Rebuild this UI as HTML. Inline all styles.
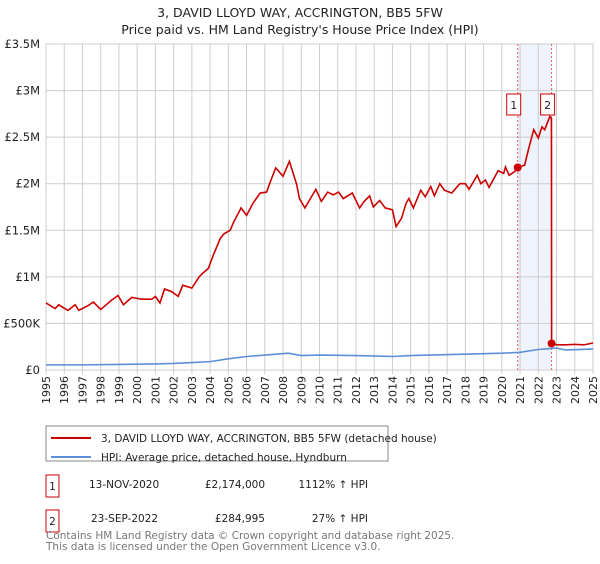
<!DOCTYPE html>
<html><head><meta charset="utf-8"><style>
body{margin:0;background:#fff;font-family:"DejaVu Sans","Liberation Sans",sans-serif;}
svg text{font-family:"DejaVu Sans","Liberation Sans",sans-serif;}
</style></head><body>
<svg id="c" width="600" height="560" viewBox="0 0 600 560" xmlns="http://www.w3.org/2000/svg">
<text x="300" y="17" text-anchor="middle" font-size="12.5" fill="#222">3, DAVID LLOYD WAY, ACCRINGTON, BB5 5FW</text>
<text x="300" y="34" text-anchor="middle" font-size="12.5" fill="#222">Price paid vs. HM Land Registry's House Price Index (HPI)</text>
<g id="plot"></g>
<g font-size="11" fill="#222" text-anchor="end">
<text transform="translate(50.0,376) rotate(-90)">1995</text>
<text transform="translate(68.2,376) rotate(-90)">1996</text>
<text transform="translate(86.5,376) rotate(-90)">1997</text>
<text transform="translate(104.7,376) rotate(-90)">1998</text>
<text transform="translate(122.9,376) rotate(-90)">1999</text>
<text transform="translate(141.2,376) rotate(-90)">2000</text>
<text transform="translate(159.4,376) rotate(-90)">2001</text>
<text transform="translate(177.6,376) rotate(-90)">2002</text>
<text transform="translate(195.9,376) rotate(-90)">2003</text>
<text transform="translate(214.1,376) rotate(-90)">2004</text>
<text transform="translate(232.3,376) rotate(-90)">2005</text>
<text transform="translate(250.6,376) rotate(-90)">2006</text>
<text transform="translate(268.8,376) rotate(-90)">2007</text>
<text transform="translate(287.0,376) rotate(-90)">2008</text>
<text transform="translate(305.3,376) rotate(-90)">2009</text>
<text transform="translate(323.5,376) rotate(-90)">2010</text>
<text transform="translate(341.7,376) rotate(-90)">2011</text>
<text transform="translate(360.0,376) rotate(-90)">2012</text>
<text transform="translate(378.2,376) rotate(-90)">2013</text>
<text transform="translate(396.4,376) rotate(-90)">2014</text>
<text transform="translate(414.7,376) rotate(-90)">2015</text>
<text transform="translate(432.9,376) rotate(-90)">2016</text>
<text transform="translate(451.1,376) rotate(-90)">2017</text>
<text transform="translate(469.4,376) rotate(-90)">2018</text>
<text transform="translate(487.6,376) rotate(-90)">2019</text>
<text transform="translate(505.8,376) rotate(-90)">2020</text>
<text transform="translate(524.1,376) rotate(-90)">2021</text>
<text transform="translate(542.3,376) rotate(-90)">2022</text>
<text transform="translate(560.5,376) rotate(-90)">2023</text>
<text transform="translate(578.8,376) rotate(-90)">2024</text>
<text transform="translate(597.0,376) rotate(-90)">2025</text>
</g>
<g>
<rect x="46" y="426" width="342" height="35" fill="#fff" stroke="#888"/>
<line x1="51" y1="438" x2="91" y2="438" stroke="#cc0000" stroke-width="2"/>
<text x="101" y="442" font-size="10.5" fill="#222">3, DAVID LLOYD WAY, ACCRINGTON, BB5 5FW (detached house)</text>
<line x1="51" y1="457" x2="91" y2="457" stroke="#5b8fd6" stroke-width="2"/>
<text x="101" y="461" font-size="10.5" fill="#222">HPI: Average price, detached house, Hyndburn</text>
</g>
<g font-size="10.5" fill="#222">
<rect x="46" y="475" width="13" height="22" fill="#fff" stroke="#cc0000"/>
<text x="52.5" y="490" text-anchor="middle">1</text>
<text x="89" y="488">13-NOV-2020</text>
<text x="265" y="488" text-anchor="end">£2,174,000</text>
<text x="368" y="488" text-anchor="end">1112% ↑ HPI</text>
</g>
<g font-size="10.5" fill="#222">
<rect x="46" y="510" width="13" height="22" fill="#fff" stroke="#cc0000"/>
<text x="52.5" y="525" text-anchor="middle">2</text>
<text x="91" y="522">23-SEP-2022</text>
<text x="265" y="522" text-anchor="end">£284,995</text>
<text x="368" y="522" text-anchor="end">27% ↑ HPI</text>
</g>
<text x="46" y="539" font-size="10.5" fill="#777">Contains HM Land Registry data © Crown copyright and database right 2025.</text>
<text x="46" y="550" font-size="10.5" fill="#777">This data is licensed under the Open Government Licence v3.0.</text>
</svg>
<script>
const yTickValues=[0,0.5,1,1.5,2,2.5,3,3.5];
const yTickLabels=["£0","£500K","£1M","£1.5M","£2M","£2.5M","£3M","£3.5M"];
const xYears=[1995,1996,1997,1998,1999,2000,2001,2002,2003,2004,2005,2006,2007,2008,2009,2010,2011,2012,2013,2014,2015,2016,2017,2018,2019,2020,2021,2022,2023,2024,2025];
const redT=[1995,1995.5,1995.7,1996.2,1996.6,1996.8,1997.3,1997.6,1998,1998.6,1998.95,1999.25,1999.7,2000.25,2000.8,2001,2001.25,2001.5,2001.9,2002.25,2002.5,2003,2003.4,2003.6,2003.9,2004.15,2004.55,2004.75,2005.1,2005.3,2005.7,2006,2006.35,2006.75,2007.1,2007.3,2007.6,2008,2008.35,2008.75,2008.9,2009.2,2009.5,2009.8,2010.1,2010.45,2010.75,2011.05,2011.3,2011.8,2012.2,2012.45,2012.75,2012.95,2013.3,2013.6,2014,2014.2,2014.5,2014.75,2014.9,2015.15,2015.55,2015.8,2016.1,2016.3,2016.6,2016.85,2017.25,2017.7,2018,2018.2,2018.65,2018.85,2019.1,2019.3,2019.8,2020.1,2020.2,2020.4,2020.7,2020.87,2021.25,2021.45,2021.75,2022,2022.2,2022.35,2022.63,2022.72,2022.73,2023,2023.5,2024,2024.5,2025];
const redV=[0.72,0.66,0.70,0.64,0.70,0.64,0.69,0.73,0.65,0.75,0.80,0.70,0.78,0.76,0.76,0.79,0.72,0.87,0.84,0.79,0.91,0.88,1.00,1.04,1.09,1.22,1.41,1.46,1.50,1.59,1.74,1.66,1.79,1.90,1.91,2.02,2.17,2.08,2.24,1.99,1.84,1.74,1.84,1.94,1.81,1.91,1.88,1.91,1.84,1.90,1.74,1.81,1.87,1.75,1.82,1.74,1.72,1.54,1.63,1.79,1.84,1.74,1.93,1.86,1.97,1.87,2.00,1.93,1.90,2.00,2.00,1.94,2.09,2.00,2.04,1.96,2.14,2.11,2.18,2.09,2.13,2.174,2.20,2.36,2.58,2.49,2.61,2.58,2.72,2.70,0.285,0.27,0.27,0.275,0.27,0.29];
const hpiT=[1995,1997,1999,2001,2002,2003,2004,2005,2006,2007,2008.3,2009,2010,2012,2014,2015,2016,2018,2020,2021,2022,2023,2023.5,2025];
const hpiV=[0.055,0.055,0.06,0.065,0.07,0.08,0.09,0.12,0.145,0.16,0.18,0.155,0.16,0.155,0.145,0.155,0.16,0.17,0.18,0.19,0.22,0.235,0.215,0.225];
const saleT=[2020.87,2022.73];
const saleV=[2.174,0.285];
const saleLabels=["1","2"];

const X0=46,X1=593,Y0=370,Y1=44;
const xs=t=>X0+(t-1995)/30*(X1-X0);
const ys=v=>Y0-v/3.5*(Y0-Y1);
const NS="http://www.w3.org/2000/svg";
const g=document.getElementById('plot');
function mk(tag,attrs,parent){const e=document.createElementNS(NS,tag);for(const k in attrs)e.setAttribute(k,attrs[k]);(parent||g).appendChild(e);return e;}

const shade=mk('rect',{x:xs(saleT[0]),y:Y1,width:xs(saleT[1])-xs(saleT[0]),height:Y0-Y1,fill:'#eef3fc'});


xYears.forEach(yr=>{
  const l=mk('line',{x1:xs(yr),x2:xs(yr),y1:Y1,y2:Y0+4,stroke:'#cccccc','stroke-width':1});
  
  
});
yTickValues.forEach((v,i)=>{
  const l=mk('line',{x1:X0,x2:X1,y1:ys(v),y2:ys(v),stroke:'#cccccc','stroke-width':1});
  
  
  const t=mk('text',{x:40,y:ys(v)+4,'font-size':11.5,fill:'#222','text-anchor':'end'});
  
  
  t.textContent=yTickLabels[i];
});
const ax=mk('rect',{x:X0,y:Y1,width:X1-X0,height:Y0-Y1,fill:'none',stroke:'#cccccc'});


saleT.forEach((t,i)=>{
  const l=mk('line',{x1:xs(t),x2:xs(t),y1:Y1,y2:Y0,stroke:'#ee5555','stroke-width':1,'stroke-dasharray':'2,2'});
  
  
});
const hp=mk('polyline',{points:hpiT.map((t,i)=>xs(t)+','+ys(hpiV[i])).join(' '),fill:'none',stroke:'#5b8fd6','stroke-width':1.6});


const rp=mk('polyline',{points:redT.map((t,i)=>xs(t)+','+ys(redV[i])).join(' '),fill:'none',stroke:'#cc0000','stroke-width':1.6});


saleT.forEach((t,i)=>{
  const c=mk('circle',{cx:xs(t),cy:ys(saleV[i]),r:4,fill:'#cc0000'});
  
  
  const b=mk('rect',{x:xs(t)-11,y:94,width:14,height:21,fill:'#fff',stroke:'#cc0000'});
  
  
  const tx=mk('text',{x:xs(t)-4,y:109,'font-size':11,fill:'#222','text-anchor':'middle'});
  
  
  tx.textContent=saleLabels[i];
});
</script>
</body></html>
